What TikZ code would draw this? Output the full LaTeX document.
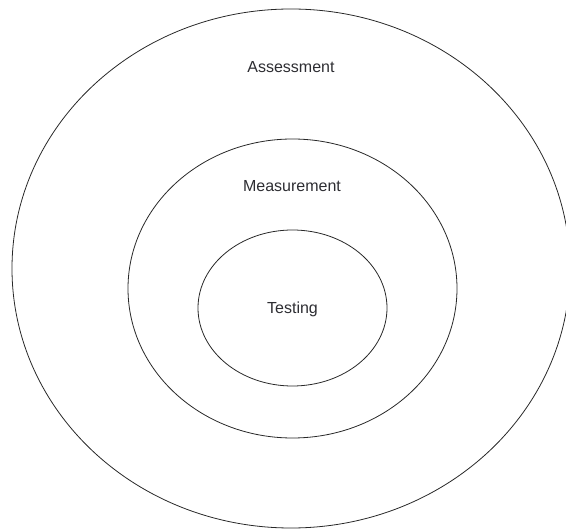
\documentclass[tikz,border=0pt]{standalone}
\usepackage{fontspec}
\setmainfont{Liberation Sans}
\definecolor{ringline}{RGB}{40,40,40}
\definecolor{ringtext}{RGB}{45,45,50}
\usepackage{tikz}
\usetikzlibrary{shapes.geometric,positioning}

\begin{document}
\begin{tikzpicture}[x=1pt, y=-1pt, every node/.style={font=\fontsize{16}{19}\selectfont, text=ringtext}]
    \useasboundingbox (0,0) rectangle (566,529);

    % Rings
    \tikzset{ring/.style={draw=ringline, line width=0.8pt, ellipse, inner sep=0pt}}
    \node[ring, minimum width=558pt, minimum height=519pt] (assess) at (291,268.5) {};
    \node[ring, minimum width=329pt, minimum height=299pt] (measure) at (292.5,288.5) {};
    \node[ring, minimum width=189pt, minimum height=156pt] (test) at (292.5,308) {};

    % Labels
    \node (assesslabel) at (291,67) {Assessment};
    \node (measurelabel) at (292,186) {Measurement};
    \node (testlabel) at (292.5,309) {Testing};
\end{tikzpicture}
\end{document}
